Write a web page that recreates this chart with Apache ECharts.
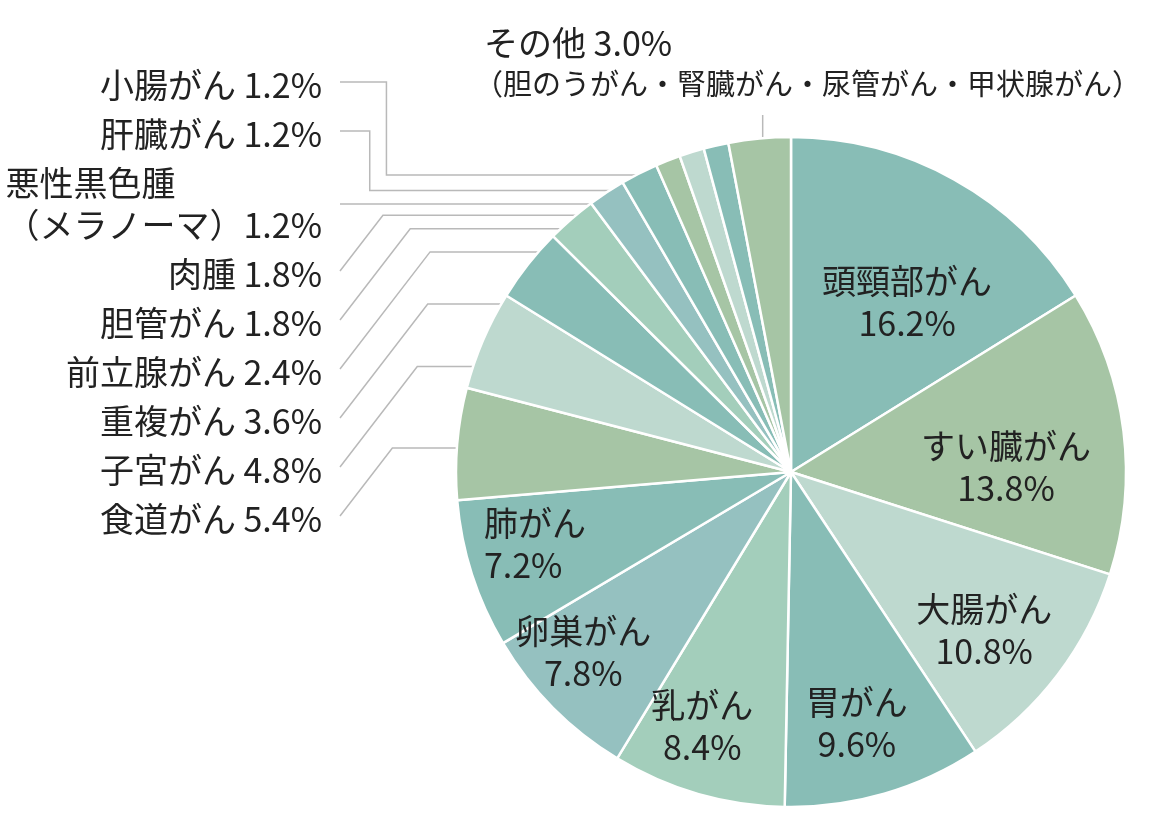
<!DOCTYPE html>
<html lang="ja">
<head>
<meta charset="UTF-8">
<title>がんの種類別割合</title>
<style>
    html, body { margin: 0; padding: 0; background: #fff; }
    #chartBox { width: 1152px; height: 818px; }
</style>
</head>
<body>
<div id="chartBox"></div>
<script type="text/javascript" src="https://cdn.jsdelivr.net/npm/echarts@6/dist/echarts.min.js"></script>
<script type="text/javascript">
    // データ（%）
    var names = ['頭頸部がん', 'すい臓がん', '大腸がん', '胃がん', '乳がん', '卵巣がん', '肺がん',
        '食道がん', '子宮がん', '重複がん', '前立腺がん', '胆管がん', '肉腫', '悪性黒色腫（メラノーマ）',
        '肝臓がん', '小腸がん', 'その他'];
    var values = [16.2, 13.8, 10.8, 9.6, 8.4, 7.8, 7.2, 5.4, 4.8, 3.6, 2.4, 1.8, 1.8, 1.2, 1.2, 1.2, 3.0];
    var otherNote = '（胆のうがん・腎臓がん・尿管がん・甲状腺がん）';
    var insideCount = 7; // 最初の7項目は扇の中にラベル

    // レイアウト・色
    var CX = 791, CY = 472, R = 335;
    var colors = ['#88bdb6', '#a6c5a5', '#bed9cf', '#88bdb6', '#a3cebb', '#95c1c0', '#88bdb6',
        '#a6c5a5', '#bed9cf', '#88bdb6', '#a3cebb', '#95c1c0', '#88bdb6', '#a6c5a5',
        '#bed9cf', '#88bdb6', '#a6c5a5'];
    var labelTurn = [5.2, 5.7, 2.2, 1.5, 3.1, 3.8, 2.1];          // 内側ラベルの角度ずらし(度)
    var labelReach = [0.615, 0.642, 0.746, 0.776, 0.803, 0.821, 0.794];
    var leaderReach = [0.85, 0.80, 0.81, 0.87, 0.87, 0.86, 0.86, 0.88, 0.91, 0.90];
    var LABEL_RIGHT = 322, LEADER_X = 340, LH = 42, GAP = 7, TOP = 64;
    var FONT = '"Noto Sans CJK JP", "Noto Sans", sans-serif';
    var FS = 34;

    var total = values.reduce(function (s, v) { return s + v; }, 0);

    function midAngle(i) {
        var before = 0;
        for (var j = 0; j < i; j++) before += values[j];
        return (before + values[i] / 2) / total * Math.PI * 2;
    }
    function polar(a, r) {
        return [CX + r * Math.sin(a), CY - r * Math.cos(a)];
    }
    function labelText(i) {
        var v = values[i].toFixed(1) + '%';
        if (i < insideCount) return names[i] + '\n' + v;
        if (i === names.length - 1) return '{a|' + names[i] + ' ' + v + '}\n{n|' + otherNote + '}';
        if (names[i].indexOf('（') > 0) return names[i].replace('（', '\n（') + v;
        return names[i] + ' ' + v;
    }

    // 左側ラベルを上から積む
    var stackMid = {};
    var y = TOP;
    for (var i = names.length - 2; i >= insideCount; i--) {
        var h = labelText(i).split('\n').length * LH;
        stackMid[i] = y + h / 2;
        y += h + GAP;
    }

    var seriesData = names.map(function (n, i) {
        var item = { name: n, value: values[i], itemStyle: { color: colors[i] } };
        if (i < insideCount) {
            item.label = { position: 'inside' };
            item.labelLine = { show: false };
        }
        return item;
    });

    var myChart = echarts.init(document.getElementById('chartBox'));
    myChart.setOption({
        animation: false,
        backgroundColor: '#fff',
        series: [{
            type: 'pie',
            center: [CX, CY],
            radius: R,
            startAngle: 90,
            clockwise: true,
            avoidLabelOverlap: false,
            emphasis: { disabled: true },
            itemStyle: { borderColor: '#fff', borderWidth: 2.5 },
            label: {
                show: true,
                position: 'outside',
                color: '#222',
                fontFamily: FONT,
                fontSize: FS,
                lineHeight: LH,
                formatter: function (p) { return labelText(p.dataIndex); },
                rich: {
                    a: { fontFamily: FONT, fontSize: FS, lineHeight: 42, color: '#222', padding: [0, 0, 0, 10] },
                    n: { fontFamily: FONT, fontSize: 29, lineHeight: 40, color: '#222' }
                }
            },
            labelLine: {
                show: true,
                lineStyle: { color: '#b9b9b9', width: 1.5 }
            },
            labelLayout: function (p) {
                var i = p.dataIndex;
                var a = midAngle(i);
                if (i < insideCount) {
                    var pt = polar(a + labelTurn[i] * Math.PI / 180, R * labelReach[i]);
                    if (i === insideCount - 1) {
                        return { x: pt[0] - p.labelRect.width / 2, y: pt[1], align: 'left', verticalAlign: 'middle' };
                    }
                    return { x: pt[0], y: pt[1], align: 'center', verticalAlign: 'middle' };
                }
                var anchor = polar(a, R * leaderReach[i - insideCount]);
                if (i === names.length - 1) {
                    return {
                        x: 474, y: 22, align: 'left', verticalAlign: 'top',
                        labelLinePoints: [anchor, [anchor[0], 115]]
                    };
                }
                var cy = stackMid[i];
                var end = [LEADER_X, cy - 3];
                var pts;
                if (Math.abs(anchor[1] - end[1]) < 8) {
                    end[1] = anchor[1];
                    pts = [anchor, end];
                } else if (anchor[1] < end[1]) {
                    pts = [anchor, [end[0] + (end[1] - anchor[1]) / 1.3, anchor[1]], end];
                } else {
                    var ex = end[0] + 0.5 * (anchor[1] - end[1]);
                    pts = [anchor, [ex, anchor[1]], [ex, end[1]], end];
                }
                // 2行ラベルは左揃え
                if (labelText(i).indexOf('\n') >= 0) {
                    return { x: LABEL_RIGHT - p.labelRect.width, y: cy, align: 'left', verticalAlign: 'middle', labelLinePoints: pts };
                }
                return { x: LABEL_RIGHT, y: cy, align: 'right', verticalAlign: 'middle', labelLinePoints: pts };
            },
            data: seriesData
        }]
    });
</script>
</body>
</html>
